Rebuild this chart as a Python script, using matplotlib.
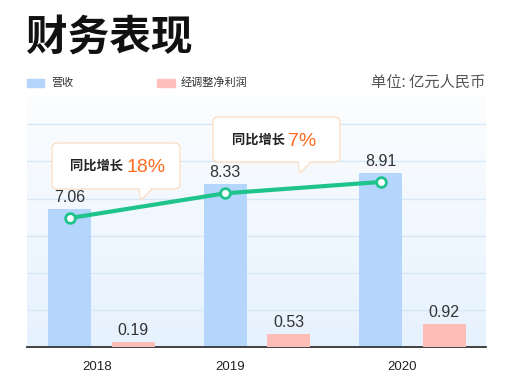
import numpy as np
import matplotlib
matplotlib.use("Agg")
import matplotlib.pyplot as plt
import matplotlib.transforms as mtransforms
from matplotlib.patches import FancyBboxPatch, Polygon, Rectangle

plt.rcParams['font.family'] = ['Noto Sans CJK SC', 'DejaVu Sans']

years = ["2018", "2019", "2020"]
revenue = [7.06, 8.33, 8.91]
profit = [0.19, 0.53, 0.92]
growth = ["18%", "7%"]

W, H = 509, 385
fig = plt.figure(figsize=(W / 100, H / 100), dpi=100)
fig.patch.set_facecolor("white")


def fx(px):
    return px / W


def fy(py):
    return 1 - py / H


# plot area: x 27..486, y 97..347 (pixels from top)
ax = fig.add_axes([fx(27), fy(347), fx(486) - fx(27), fy(97) - fy(347)])
ax2 = ax.twinx()
ax.set_facecolor("none")

# background gradient, white at top to light blue at bottom
grad = np.linspace(0, 1, 256).reshape(-1, 1)
top_c = np.array([252, 253, 255]) / 255
bot_c = np.array([230, 242, 254]) / 255
img = top_c + (bot_c - top_c) * grad
ax.imshow(img.reshape(256, 1, 3), extent=[0, 1, 0, 1], transform=ax.transAxes,
          aspect="auto", zorder=0)

x = np.arange(len(years))
off = 0.205
bw = 0.277

ax.set_xlim(-0.479, 2.473)
ax.set_ylim(0, 12.8)
ax2.set_ylim(0, 10)

# grid lines every ~37 px
for g in np.arange(1.9, 12.8, 1.9):
    ax.axhline(g, color="#d6e7f8", lw=1, zorder=1)

ax.bar(x - off, revenue, bw, color="#b4d5fc", zorder=2)
ax2.bar(x + off, profit, bw, color="#ffbdb8", zorder=2)

for xi, v in zip(x, revenue):
    ax.annotate(f"{v:.2f}", (xi - off, v), xytext=(0, 3), textcoords="offset points",
                ha="center", va="bottom", fontsize=11.5, color="#333333",
                family=["Liberation Sans", "DejaVu Sans"], zorder=5)
for xi, v in zip(x, profit):
    ax2.annotate(f"{v:.2f}", (xi + off, v), xytext=(0, 3), textcoords="offset points",
                 ha="center", va="bottom", fontsize=11.5, color="#333333",
                 family=["Liberation Sans", "DejaVu Sans"], zorder=5)

# growth line, dropped slightly below the bar tops
trans = mtransforms.offset_copy(ax.transData, fig=fig, x=0, y=-9, units="dots")
ax.plot(x - off, revenue, color="#1fc48c", lw=3, marker="o", ms=7,
        mfc="white", mec="#1fc48c", mew=2, transform=trans, zorder=4)

for a in (ax, ax2):
    for s in ("top", "right", "left"):
        a.spines[s].set_visible(False)
    a.set_yticks([])
ax.spines["bottom"].set_color("#333333")
ax.spines["bottom"].set_linewidth(1.3)
ax2.spines["bottom"].set_visible(False)
ax.set_xticks([-0.03, 0.83, 1.93])
ax.set_xticklabels(years, family=["Liberation Sans", "DejaVu Sans"], fontsize=9.5,
                   color="#222222")
ax.tick_params(axis="x", length=0, pad=10)
ax.set_zorder(1)
ax2.set_zorder(2)

# title and legend
fig.text(fx(26), fy(38), "财务表现", fontsize=30, fontweight="bold", color="#111111",
         ha="left", va="center")
fig.patches.append(Rectangle((fx(27), fy(87)), fx(17), 8 / H, color="#b4d5fc",
                             transform=fig.transFigure))
fig.text(fx(51), fy(83), "营收", fontsize=8, color="#333333", va="center")
fig.patches.append(Rectangle((fx(157), fy(87)), fx(18), 8 / H, color="#ffc0bb",
                             transform=fig.transFigure))
fig.text(fx(181), fy(83), "经调整净利润", fontsize=8, color="#333333", va="center")
fig.text(fx(485), fy(82), "单位: 亿元人民币", fontsize=11, color="#555555",
         ha="right", va="center")

# callouts
callouts = [
    (52, 143, 180, 189, (139, 152, 141, 200), 70, 166, growth[0]),
    (213, 117, 340, 162, (298, 311, 300, 173), 232, 140, growth[1]),
]
for x0, y0, x1, y1, (pa, pb, ptx, pty), tx, ty, pct in callouts:
    box = FancyBboxPatch((fx(x0), fy(y1)), fx(x1 - x0), (y1 - y0) / H,
                         boxstyle="round,pad=0,rounding_size=0.012",
                         fc="white", ec="#fbdcc0", lw=0.9,
                         transform=fig.transFigure, zorder=10)
    fig.patches.append(box)
    tri = Polygon([(fx(pa), fy(y1)), (fx(ptx), fy(pty)), (fx(pb), fy(y1))],
                  closed=False, fc="white", ec="#fbdcc0", lw=0.9,
                  transform=fig.transFigure, zorder=11)
    fig.patches.append(tri)
    cover = Polygon([(fx(pa + 0.8), fy(y1 - 0.8)), (fx(ptx), fy(pty - 1.5)),
                     (fx(pb - 0.8), fy(y1 - 0.8))],
                    closed=True, fc="white", ec="none",
                    transform=fig.transFigure, zorder=12)
    fig.patches.append(cover)
    t = fig.text(fx(tx), fy(ty), "同比增长 ", fontsize=9.5, fontweight="bold",
                 color="#222222", va="center", ha="left", zorder=13)
    fig.canvas.draw()
    bb = t.get_window_extent()
    fig.text(bb.x1 / W, fy(ty + 1), pct, fontsize=14, color="#ff6a1e",
             family=["Liberation Sans", "DejaVu Sans"], va="center", ha="left",
             zorder=13)

fig.savefig("out.png", dpi=100)
